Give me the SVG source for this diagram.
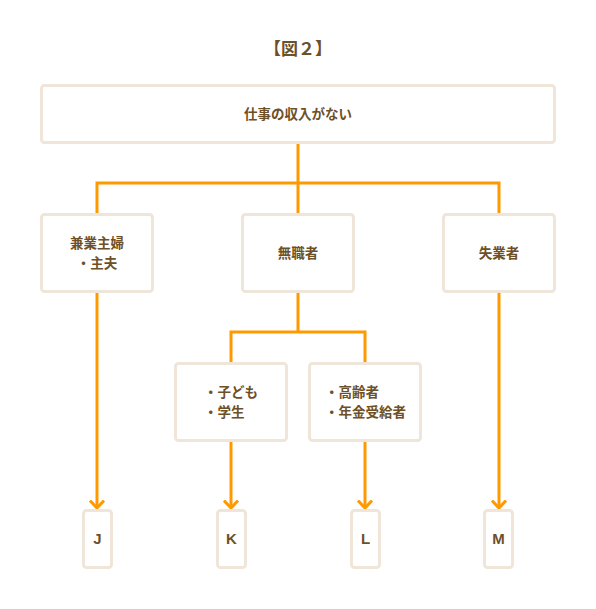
<svg xmlns="http://www.w3.org/2000/svg" width="596" height="609" viewBox="0 0 596 609">
<style>
.box{fill:#fff;stroke:#efe5d9;stroke-width:3}
.t{font-family:"Noto Sans CJK JP","Noto Sans",sans-serif;font-weight:bold;font-size:13.5px;fill:#6e5027}
.c{text-anchor:middle}
.lt{font-family:"Liberation Sans",Arial,sans-serif;font-size:15px}
.ln{fill:none;stroke:#ff9900;stroke-width:3}
</style>
<defs>
<marker id="ar" viewBox="0 0 10 16" refX="8.5" refY="8" markerWidth="10" markerHeight="16" markerUnits="userSpaceOnUse" orient="auto">
<path d="M1 1 L8.5 8 L1 15" fill="none" stroke="#ff9900" stroke-width="3"/>
</marker>
</defs>
<rect width="596" height="609" fill="#fff"/>
<text class="t c" x="298" y="55" style="font-size:17px">【図２】</text>
<g id="connectors">
<path class="ln" d="M298 143 V183 M97 214 V183 H499 V214 M298 183 V214"/>
<path class="ln" d="M298 292 V332 M231 363 V332 H365 V363"/>
<path class="ln" d="M97 292 V508" marker-end="url(#ar)"/>
<path class="ln" d="M231 441 V508" marker-end="url(#ar)"/>
<path class="ln" d="M365 441 V508" marker-end="url(#ar)"/>
<path class="ln" d="M499 292 V508" marker-end="url(#ar)"/>
</g>
<g id="n-top"><rect class="box" x="41.5" y="85.5" width="513" height="57" rx="3"/><text class="t c" x="298" y="119">仕事の収入がない</text></g>
<g id="n-kengyo"><rect class="box" x="41.5" y="214.5" width="111" height="77" rx="3"/><text class="t c" x="97" y="248">兼業主婦</text><text class="t c" x="97" y="268">・主夫</text></g>
<g id="n-mushoku"><rect class="box" x="242.5" y="214.5" width="111" height="77" rx="3"/><text class="t c" x="298" y="258">無職者</text></g>
<g id="n-shitsugyo"><rect class="box" x="443.5" y="214.5" width="111" height="77" rx="3"/><text class="t c" x="499" y="258">失業者</text></g>
<g id="n-kodomo"><rect class="box" x="175.5" y="363.5" width="111" height="77" rx="3"/><text class="t" x="204" y="397">・子ども</text><text class="t" x="204" y="417">・学生</text></g>
<g id="n-koreisha"><rect class="box" x="309.5" y="363.5" width="111" height="77" rx="3"/><text class="t" x="325" y="397">・高齢者</text><text class="t" x="325" y="417">・年金受給者</text></g>
<g id="n-J"><rect class="box" x="83.5" y="510.5" width="28" height="57" rx="3"/><text class="t c lt" x="97.5" y="544">J</text></g>
<g id="n-K"><rect class="box" x="217.5" y="510.5" width="28" height="57" rx="3"/><text class="t c lt" x="231.5" y="544">K</text></g>
<g id="n-L"><rect class="box" x="351.5" y="510.5" width="28" height="57" rx="3"/><text class="t c lt" x="365.5" y="544">L</text></g>
<g id="n-M"><rect class="box" x="484.5" y="510.5" width="28" height="57" rx="3"/><text class="t c lt" x="498.5" y="544">M</text></g>
</svg>
